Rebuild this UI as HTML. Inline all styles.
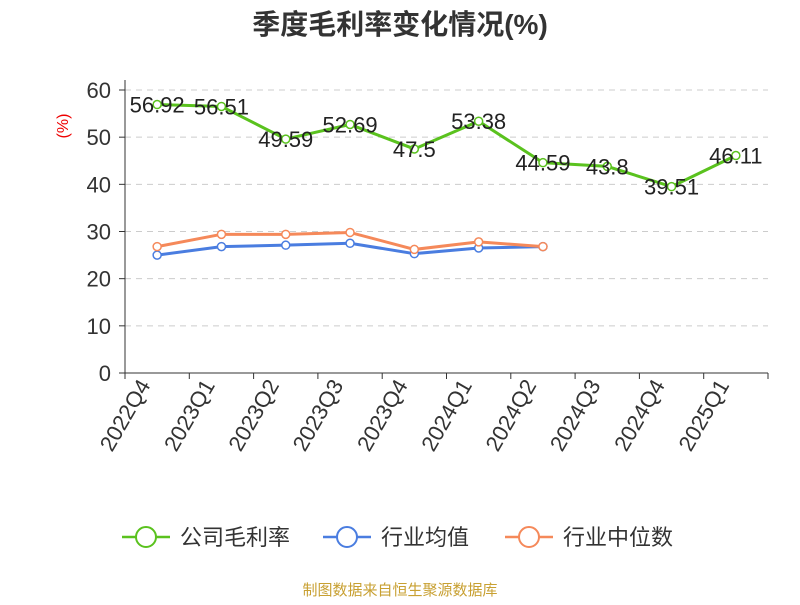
<!DOCTYPE html>
<html><head><meta charset="utf-8"><style>
body{margin:0;background:#fff;font-family:"Liberation Sans","Noto Sans CJK SC",sans-serif;}
</style></head><body>
<svg id="c" width="800" height="600" xmlns="http://www.w3.org/2000/svg" font-family="Liberation Sans, Noto Sans CJK SC, sans-serif"></svg>
<script>
const categories=["2022Q4","2023Q1","2023Q2","2023Q3","2023Q4","2024Q1","2024Q2","2024Q3","2024Q4","2025Q1"];
const grossMargin=[56.92,56.51,49.59,52.69,47.5,53.38,44.59,43.8,39.51,46.11];
const industryAvg=[25.0,26.8,27.1,27.5,25.3,26.5,26.8];
const industryMedian=[26.8,29.4,29.4,29.8,26.2,27.8,26.8];
const yTicks=[0,10,20,30,40,50,60];
const NS="http://www.w3.org/2000/svg";
const svg=document.getElementById('c');
const L=125,R=768,T=90,B=373;
const bw=(R-L)/categories.length;
const xs=i=>L+bw*(i+0.5);
const ys=v=>B-(v/60)*(B-T);
function el(t,a,txt){const e=document.createElementNS(NS,t);for(const k in a)e.setAttribute(k,a[k]);if(txt!==undefined)e.textContent=txt;svg.appendChild(e);return e;}
let e=el('text',{x:400,y:34,'text-anchor':'middle','font-size':28,'font-weight':'bold',fill:'#333'},'季度毛利率变化情况(%)');

e=el('text',{x:68,y:126,'text-anchor':'middle','font-size':16,fill:'#e00',transform:'rotate(-90 68 126)'},'(%)');

yTicks.forEach(v=>{
  if(v>0){e=el('line',{x1:L,x2:R,y1:ys(v),y2:ys(v),stroke:'#ccc','stroke-dasharray':'6,5'});}
  e=el('line',{x1:L-6,x2:L,y1:ys(v),y2:ys(v),stroke:'#333'});
  e=el('text',{x:L-14,y:ys(v)+8,'text-anchor':'end','font-size':22,fill:'#333'},v);
});
e=el('line',{x1:L,x2:L,y1:T-10,y2:B,stroke:'#333'});
e=el('line',{x1:L,x2:R,y1:B,y2:B,stroke:'#333'});
for(let i=0;i<=categories.length;i++){e=el('line',{x1:L+bw*i,x2:L+bw*i,y1:B,y2:B+6,stroke:'#333'});}
categories.forEach((c,i)=>{const x=xs(i)-6,y=B+12;
  e=el('text',{x:x,y:y,'text-anchor':'end','font-size':22,fill:'#333',transform:`rotate(-60 ${x} ${y})`},c);
  });
function series(vals,color,name){
  e=el('polyline',{points:vals.map((v,i)=>xs(i)+','+ys(v)).join(' '),fill:'none',stroke:color,'stroke-width':3});
  
  vals.forEach((v,i)=>{e=el('circle',{cx:xs(i),cy:ys(v),r:4,fill:'#fff',stroke:color,'stroke-width':1.5});
    });
}
series(industryAvg,'#4a7de0','industry-avg');
series(industryMedian,'#f5895a','industry-median');
series(grossMargin,'#5ac21e','gross-margin');
grossMargin.forEach((v,i)=>{e=el('text',{x:xs(i),y:ys(v)+8,'text-anchor':'middle','font-size':22,fill:'#222'},v);
  });
const leg=[['公司毛利率','#5ac21e',122],['行业均值','#4a7de0',323],['行业中位数','#f5895a',505]];
leg.forEach(([t,c,x])=>{
  e=el('line',{x1:x,x2:x+48,y1:537,y2:537,stroke:c,'stroke-width':2.5});
  e=el('circle',{cx:x+24,cy:537,r:10,fill:'#fff',stroke:c,'stroke-width':2});
  e=el('text',{x:x+58,y:545,'font-size':22,fill:'#333'},t);
});
e=el('text',{x:400,y:595,'text-anchor':'middle','font-size':15,fill:'#c8a032'},'制图数据来自恒生聚源数据库');

</script>
</body></html>
